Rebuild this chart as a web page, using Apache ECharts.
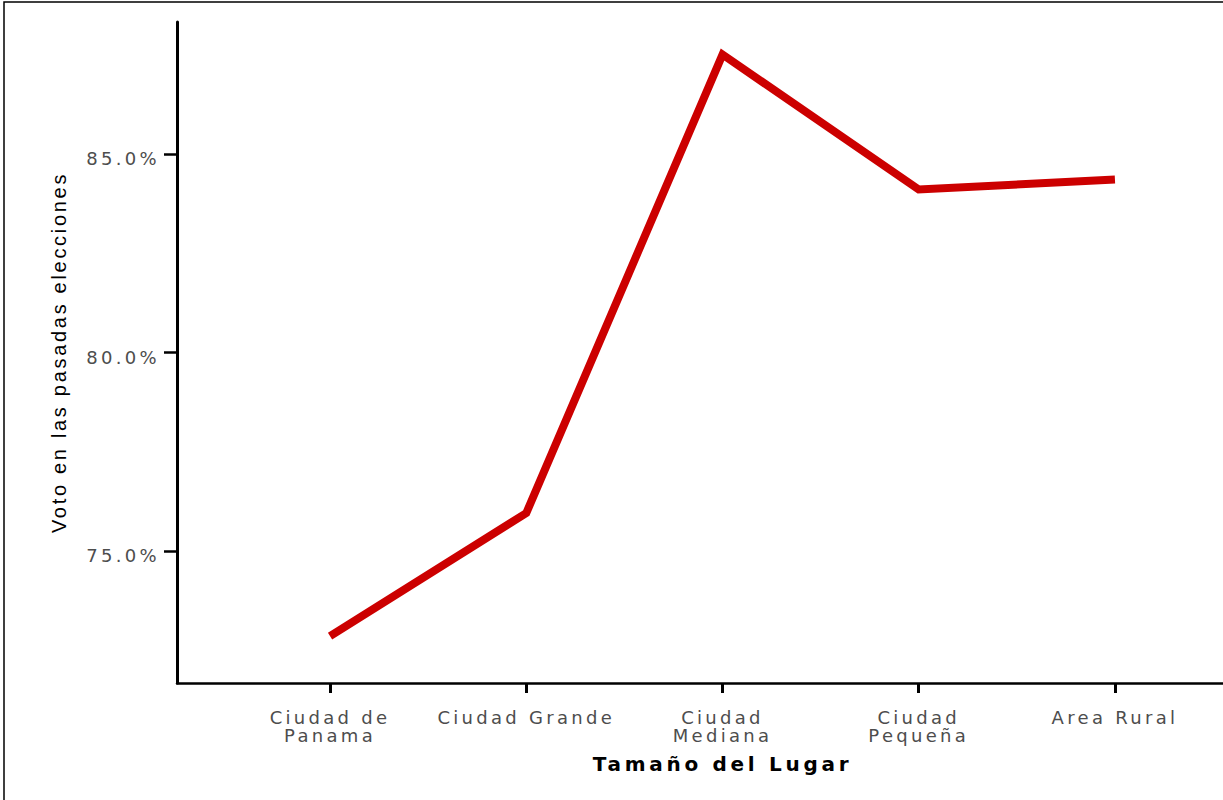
<!DOCTYPE html>
<html>
<head>
<meta charset="utf-8">
<script src="https://cdn.jsdelivr.net/npm/echarts@6/dist/echarts.min.js"></script>
<style>
  html, body { margin: 0; padding: 0; background: #fff; }
  #chart { width: 1223px; height: 800px; }
  /* widely tracked lettering: tick labels, y title, x title */
  #chart text[style*="18px"] { letter-spacing: 3.3px; }
  #chart text[style*="20px"] { letter-spacing: 2.7px; }
  #chart text[style*="bold"] { letter-spacing: 3.7px; }
</style>
</head>
<body>
<div id="chart"></div>
<script>
// Place size categories and share of people who voted in the last elections (%)
const categories = ['Ciudad de\nPanama', 'Ciudad Grande', 'Ciudad\nMediana', 'Ciudad\nPequeña', 'Area Rural'];
const voteShare = [72.85, 75.95, 87.5, 84.1, 84.35];
const yTicks = [75, 80, 85];
const xTitle = 'Tamaño del Lugar';
const yTitle = 'Voto en las pasadas elecciones';

const xPositions = categories.map((_, i) => i);
const lineData = voteShare.map((v, i) => [xPositions[i], v]);

const WIDE_FONT = 'DejaVu Sans';
const TITLE_FONT = 'Liberation Sans';

const chart = echarts.init(document.getElementById('chart'), null, { renderer: 'svg' });

chart.setOption({
  animation: false,
  backgroundColor: '#ffffff',
  grid: {
    left: 177,
    top: 22,
    width: 1091,
    height: 661,
    containLabel: false,
    outerBoundsMode: 'none'
  },
  xAxis: {
    type: 'value',
    min: -0.78,
    max: 4.78,
    name: xTitle,
    nameLocation: 'middle',
    nameGap: 71,
    nameTextStyle: { fontFamily: WIDE_FONT, fontSize: 20, fontWeight: 'bold', color: '#000' },
    splitLine: { show: false },
    axisLine: { show: true, onZero: false, lineStyle: { color: '#000', width: 2.5 } },
    axisTick: {
      show: true,
      customValues: xPositions,
      length: 10,
      lineStyle: { color: '#000', width: 3 }
    },
    axisLabel: {
      customValues: xPositions,
      formatter: (v) => categories[Math.round(v)],
      fontFamily: WIDE_FONT,
      fontSize: 18,
      lineHeight: 18,
      color: '#4d4d4d',
      margin: 25,
      align: 'center'
    }
  },
  yAxis: {
    type: 'value',
    min: 71.67,
    max: 88.32,
    name: yTitle,
    nameLocation: 'middle',
    nameGap: 108,
    nameTextStyle: { fontFamily: TITLE_FONT, fontSize: 20, color: '#000' },
    splitLine: { show: false },
    axisLine: { show: true, onZero: false, lineStyle: { color: '#000', width: 3 } },
    axisTick: {
      show: true,
      customValues: yTicks,
      length: 13,
      lineStyle: { color: '#000', width: 2.5 }
    },
    axisLabel: {
      customValues: yTicks,
      formatter: (v) => v.toFixed(1) + '%',
      fontFamily: WIDE_FONT,
      fontSize: 18,
      color: '#4d4d4d',
      margin: 17,
      verticalAlign: 'top',
      lineHeight: 10
    }
  },
  graphic: [{
    type: 'polyline',
    silent: true,
    shape: { points: [[4, 800], [4, 2], [1223, 2]] },
    style: { stroke: '#000', lineWidth: 1.5, fill: null }
  }],
  series: [{
    type: 'line',
    data: lineData,
    symbol: 'none',
    lineStyle: { color: '#cc0000', width: 8, join: 'miter', cap: 'butt' }
  }]
});
</script>
</body>
</html>
